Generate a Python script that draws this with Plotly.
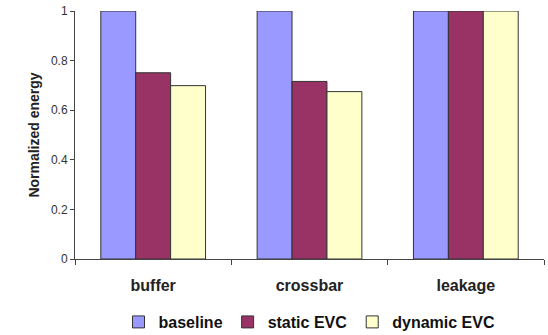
import plotly.graph_objects as go

categories = ["buffer", "crossbar", "leakage"]
baseline = [1.0, 1.0, 1.0]
static_evc = [0.751, 0.716, 1.0]
dynamic_evc = [0.699, 0.675, 1.0]
y_ticks = [0, 0.2, 0.4, 0.6, 0.8, 1]
y_tick_labels = ["0", "0.2", "0.4", "0.6", "0.8", "1"]

font_family = "Liberation Sans, Arial, sans-serif"
edge = dict(color="#333333", width=1)

fig = go.Figure()
fig.add_trace(go.Bar(name="baseline", x=categories, y=baseline,
                     marker=dict(color="#9999FF", line=edge)))
fig.add_trace(go.Bar(name="static EVC", x=categories, y=static_evc,
                     marker=dict(color="#993366", line=edge)))
fig.add_trace(go.Bar(name="dynamic EVC", x=categories, y=dynamic_evc,
                     marker=dict(color="#FFFFCC", line=edge)))

fig.update_layout(
    width=548, height=335,
    margin=dict(l=75, r=4, t=11, b=76, autoexpand=False),
    paper_bgcolor="white", plot_bgcolor="white",
    barmode="group", bargap=0.33, bargroupgap=0,
    font=dict(family=font_family, color="#222222"),
    showlegend=True,
    legend=dict(orientation="h", x=0.5, xanchor="center", y=-0.254, yanchor="middle",
                font=dict(size=16, family=font_family, color="#111111", weight="bold"),
                traceorder="normal", itemwidth=30),
    xaxis=dict(
        automargin=False,
        showline=True, linecolor="#444444", linewidth=1,
        ticks="outside", tickson="boundaries", ticklen=5, tickcolor="#444444",
        ticklabelstandoff=12,
        tickfont=dict(size=16, family=font_family, color="#222222", weight="bold"),
        showgrid=False, zeroline=False,
    ),
    yaxis=dict(
        automargin=False,
        range=[0, 1], tickvals=y_ticks, ticktext=y_tick_labels,
        showline=True, linecolor="#444444", linewidth=1,
        ticks="outside", ticklen=4, tickcolor="#444444",
        tickfont=dict(size=12, family=font_family, color="#333333"),
        showgrid=False, zeroline=False,
        title=dict(text="Normalized energy", standoff=8,
                   font=dict(size=14, family=font_family, color="#222222", weight="bold")),
    ),
)

# remove the browser's default 8px body margin so the figure fills the window
fig.write_html("out.html",
               config={"displayModeBar": False},
               post_script="document.body.style.margin='0';document.body.style.overflow='hidden';")
